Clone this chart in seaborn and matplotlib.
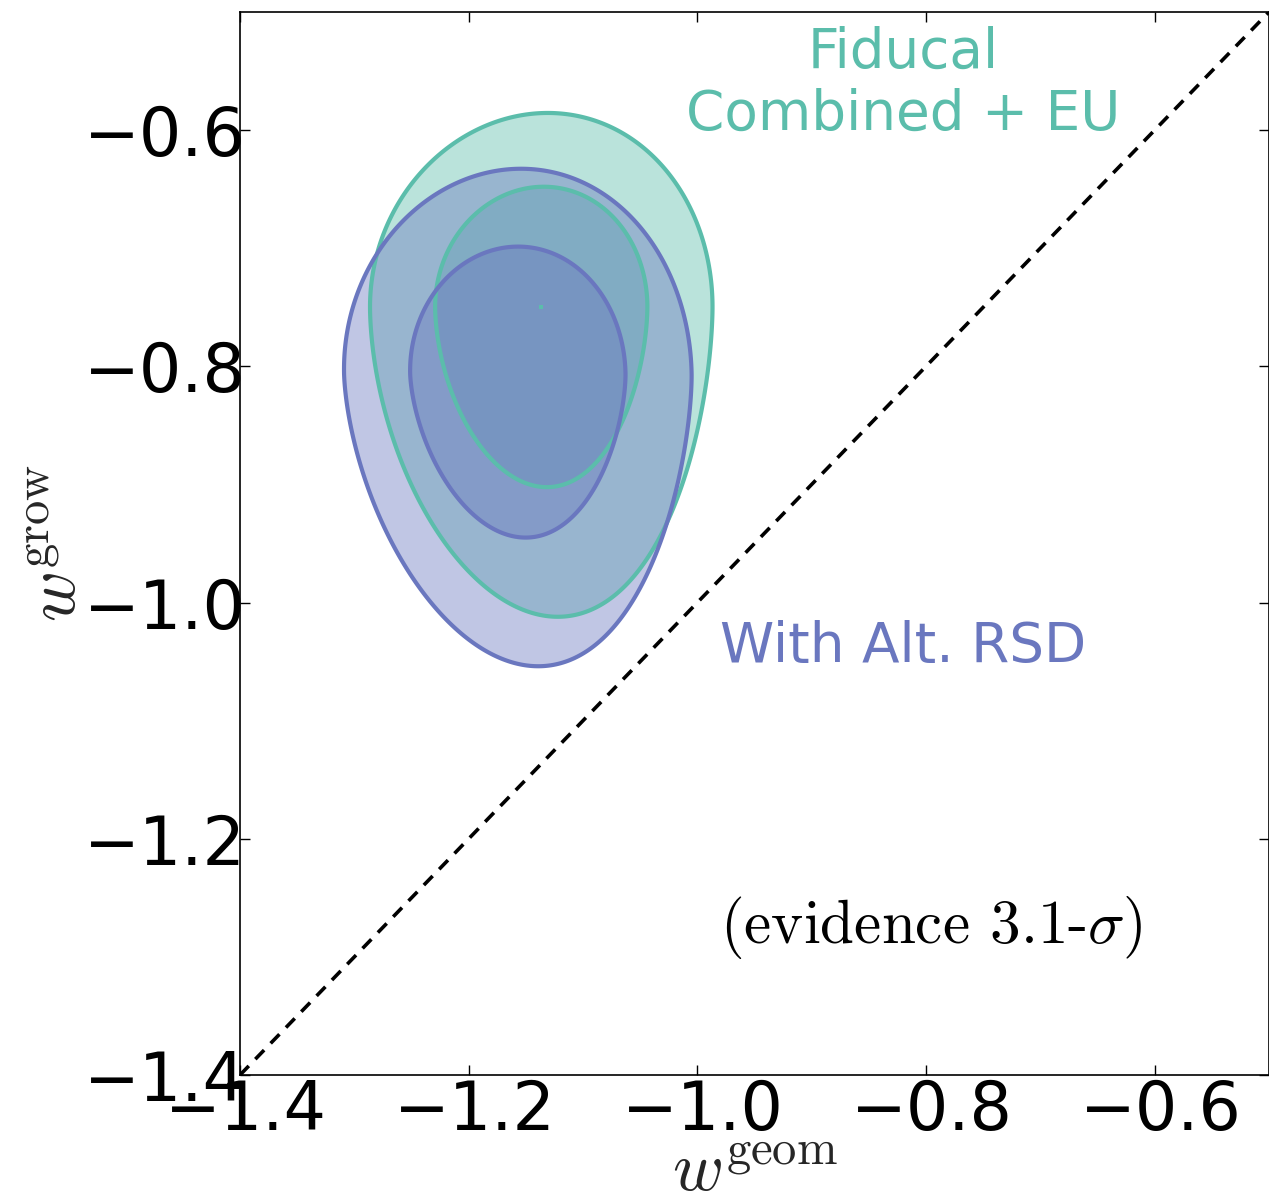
import numpy as np
import matplotlib
matplotlib.use("Agg")
import matplotlib.pyplot as plt
from matplotlib.transforms import ScaledTranslation
import seaborn as sns

# Posterior summaries in the (w_geom, w_grow) plane:
# mode, widths (w_geom, upper w_grow, lower w_grow), lower-tail index, bend of the ridge
fid_mode = [-1.1365, -0.7497]
fid_widths = [0.0612, 0.0671, 0.0952]
fid_tail = 0.883
fid_bend = [0.0, 0.21]

alt_mode = [-1.157, -0.806]
alt_widths = [0.0621, 0.0708, 0.0840]
alt_tail = 0.827
alt_bend = [-0.02, 0.21]

# delta chi^2 for the 68% and 95% regions of two parameters
dchi2_levels = [2.30, 5.99]

fid_label = ["Fiducal", "Combined + EU"]
alt_label = "With Alt. RSD"
evidence_label = r"(evidence 3.1-$\sigma$)"

ticks = [-1.4, -1.2, -1.0, -0.8, -0.6]
lims = [-1.4, -0.5]

teal = "#5bbdab"
blue = "#6a77bf"

sns.set_style("ticks")
plt.rcParams["font.family"] = ["DejaVu Sans"]
plt.rcParams["mathtext.fontset"] = "cm"

fig = plt.figure(figsize=(12.69, 12.02), dpi=100)
ax = fig.add_axes([240 / 1269, 127 / 1202, 1029 / 1269, 1063 / 1202])

gx = np.linspace(-1.6, -0.6, 700)
gy = np.linspace(-1.35, -0.45, 700)
X, Y = np.meshgrid(gx, gy)


def chi2(mode, widths, tail, bend):
    mx, my = mode
    sx, su, sd = widths
    a, b = bend
    dy = Y - my
    xc = mx + a * dy + b * dy ** 2
    ty = np.where(dy >= 0, dy / su, (np.abs(dy) / sd) ** tail)
    return ((X - xc) / sx) ** 2 + ty ** 2


surfaces = [
    (chi2(fid_mode, fid_widths, fid_tail, fid_bend), teal),
    (chi2(alt_mode, alt_widths, alt_tail, alt_bend), blue),
]

l68, l95 = dchi2_levels
# filled credible regions: 95% then 68% layered on top
for c2, c in surfaces:
    ax.contourf(X, Y, c2, levels=[-1.0, l95], colors=[c], alpha=0.42)
    ax.contourf(X, Y, c2, levels=[-1.0, l68], colors=[c], alpha=0.42)

for c2, c in surfaces:
    ax.contour(X, Y, c2, levels=[l68, l95], colors=[c], linewidths=3.0)

ax.plot([fid_mode[0]], [fid_mode[1]], marker="s", ms=2.5, color=teal, mew=0)

# w_geom = w_grow reference line
diag = np.array(lims)
sns.lineplot(x=diag, y=diag, ax=ax, color="black", lw=2.6,
             linestyle=(0, (3.5, 2.6)))

ax.set_xlim(lims)
ax.set_ylim(lims)
ax.set_xticks(ticks)
ax.set_yticks(ticks)
ax.tick_params(direction="in", top=True, right=True, length=7, width=1,
               labelsize=48, colors="black")
ax.tick_params(axis="x", pad=2.5)
ax.tick_params(axis="y", pad=-4.5)
shift = ScaledTranslation(6 / 100, 0, fig.dpi_scale_trans)
for lab in ax.get_xticklabels():
    lab.set_transform(lab.get_transform() + shift)
for s in ax.spines.values():
    s.set_linewidth(1.2)
    s.set_color("black")

ax.set_xlabel(r"$w^{\rm geom}$", fontsize=50, labelpad=-5)
ax.set_ylabel(r"$w^{\rm grow}$", fontsize=50, labelpad=-4)

ax.text(-0.820, -0.547, fid_label[0], color=teal, fontsize=39.5,
        ha="center", va="baseline")
ax.text(-0.820, -0.600, fid_label[1], color=teal, fontsize=39.5,
        ha="center", va="baseline")
ax.text(-0.820, -1.050, alt_label, color=blue, fontsize=39.5,
        ha="center", va="baseline")
ax.text(-0.795, -1.288, evidence_label, color="black", fontsize=44,
        family="cmr10", ha="center", va="baseline")

fig.savefig("out.png", dpi=100)
